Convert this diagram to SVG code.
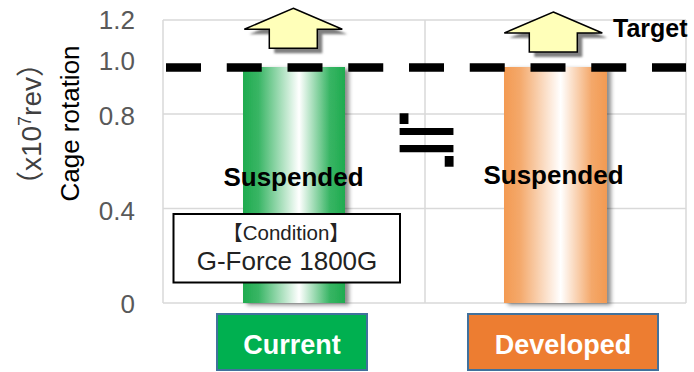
<svg xmlns="http://www.w3.org/2000/svg" width="694" height="372" viewBox="0 0 694 372">
<style>
.grid{stroke:#D9D9D9;stroke-width:1.5;fill:none}
.tick{font-family:"Liberation Sans",Arial,sans-serif;font-size:26px;fill:#595959;text-anchor:end}
.bold{font-family:"Liberation Sans",Arial,sans-serif;font-weight:bold;fill:#000}
.cat{font-family:"Liberation Sans",Arial,sans-serif;font-weight:bold;font-size:27px;fill:#fff;text-anchor:middle}
.arrow{fill:#FFFFB9;stroke:#000;stroke-width:1.5;stroke-linejoin:miter}
.ashadow{fill:#808080}
</style>
<defs>
<linearGradient id="gGreen" x1="0" y1="0" x2="1" y2="0">
<stop offset="0" stop-color="#1FAB4F"/>
<stop offset="0.15" stop-color="#38B564"/>
<stop offset="0.55" stop-color="#FFFFFF"/>
<stop offset="0.85" stop-color="#38B564"/>
<stop offset="1" stop-color="#1FAB4F"/>
</linearGradient>
<linearGradient id="gOrange" x1="0" y1="0" x2="1" y2="0">
<stop offset="0" stop-color="#F39A52"/>
<stop offset="0.15" stop-color="#F4A86A"/>
<stop offset="0.55" stop-color="#FFFFFF"/>
<stop offset="0.85" stop-color="#F4A86A"/>
<stop offset="1" stop-color="#F39A52"/>
</linearGradient>
<filter id="sh" x="-20%" y="-10%" width="140%" height="120%">
<feDropShadow dx="4" dy="2" stdDeviation="2" flood-color="#000" flood-opacity="0.45"/>
</filter>
<filter id="ash" x="-20%" y="-20%" width="140%" height="140%">
<feGaussianBlur stdDeviation="0.8"/>
</filter>
<path id="arr" d="M0,0 L49,21 L24,21 L24,40 L-24,40 L-24,21 L-49,21 Z"/>
</defs>

<g id="plot-grid">
<line class="grid" x1="163" y1="20" x2="686" y2="20"/>
<line class="grid" x1="163" y1="114" x2="686" y2="114"/>
<line class="grid" x1="163" y1="208.5" x2="686" y2="208.5"/>
<line class="grid" x1="163" y1="303" x2="686" y2="303"/>
<line class="grid" x1="163" y1="20" x2="163" y2="303"/>
<line class="grid" x1="425" y1="20" x2="425" y2="303"/>
<line class="grid" x1="686" y1="20" x2="686" y2="303"/>
</g>

<g id="y-axis">
<text class="tick" x="135" y="29">1.2</text>
<text class="tick" x="135" y="70">1.0</text>
<text class="tick" x="135" y="125">0.8</text>
<text class="tick" x="135" y="220">0.4</text>
<text class="tick" x="135" y="313">0</text>
<text transform="translate(79,123.5) rotate(-90)" text-anchor="middle" font-family="'Liberation Sans',Arial,sans-serif" font-size="26" fill="#000">Cage rotation</text>
<text transform="translate(41,124) rotate(-90)" text-anchor="middle" font-family="'Liberation Sans','Noto Sans CJK JP',sans-serif" font-size="28" fill="#404040">（x10<tspan font-size="18" dy="-10">7</tspan><tspan dy="10">rev）</tspan></text>
</g>

<g id="bar-current">
<rect x="243" y="67" width="102" height="236" fill="url(#gGreen)" filter="url(#sh)"/>
<text class="bold" x="293.5" y="186" font-size="26" text-anchor="middle">Suspended</text>
</g>

<g id="bar-developed">
<rect x="504" y="67" width="103" height="236" fill="url(#gOrange)" filter="url(#sh)"/>
<text class="bold" x="553.5" y="184" font-size="26" text-anchor="middle">Suspended</text>
</g>

<g id="target-line">
<line x1="166" y1="67.5" x2="686" y2="67.5" stroke="#000" stroke-width="8.5" stroke-dasharray="35 25.75"/>
<text class="bold" x="613" y="37" font-size="25">Target</text>
</g>

<g id="arrow-current">
<use href="#arr" class="ashadow" transform="translate(298.3,13.3)" filter="url(#ash)"/>
<use href="#arr" class="arrow" transform="translate(293.3,8.3)"/>
</g>

<g id="arrow-developed">
<use href="#arr" class="ashadow" transform="translate(558.3,17)" filter="url(#ash)"/>
<use href="#arr" class="arrow" transform="translate(553.3,12)"/>
</g>

<g id="approx">
<text x="426.5" y="167" text-anchor="middle" font-family="'Noto Sans CJK JP','DejaVu Sans',sans-serif" font-size="86" fill="#000">≒</text>
</g>

<g id="condition">
<rect x="173.5" y="214" width="226.5" height="68.5" fill="#fff" stroke="#000" stroke-width="2"/>
<text x="286" y="239.5" text-anchor="middle" font-family="'Liberation Sans','Noto Sans CJK JP',sans-serif" font-size="20.5" fill="#222">【Condition】</text>
<text x="287" y="270" text-anchor="middle" font-family="'Liberation Sans',Arial,sans-serif" font-size="26" fill="#222">G-Force 1800G</text>
</g>

<g id="label-current">
<rect x="217" y="314" width="150" height="56" fill="#00B050" stroke="#41719C" stroke-width="2"/>
<text class="cat" x="292" y="354">Current</text>
</g>

<g id="label-developed">
<rect x="468" y="314" width="190" height="56" fill="#ED7D31" stroke="#41719C" stroke-width="2"/>
<text class="cat" x="563" y="354">Developed</text>
</g>
</svg>
